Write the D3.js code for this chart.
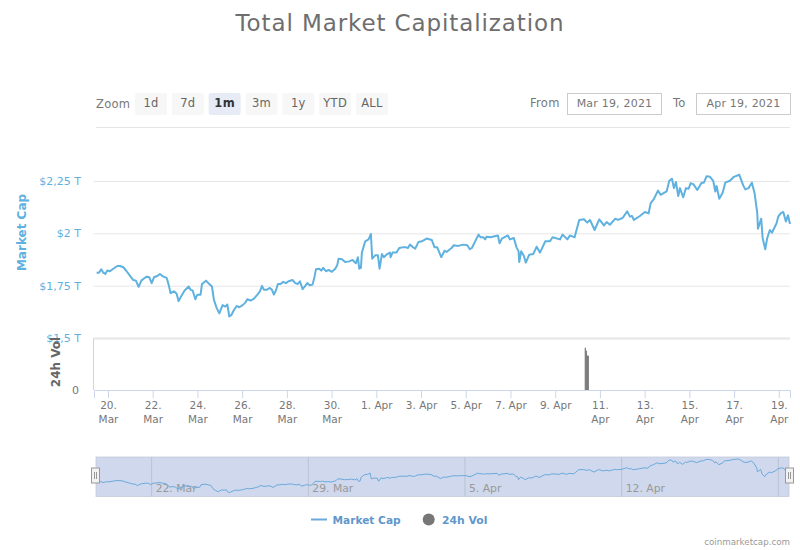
<!DOCTYPE html>
<html><head><meta charset="utf-8">
<script src="https://cdnjs.cloudflare.com/ajax/libs/d3/7.8.5/d3.min.js"></script>
<style>html,body{margin:0;padding:0;background:#fff}svg{display:block}text{font-family:"DejaVu Sans",sans-serif}</style>
</head><body><svg id="c" width="800" height="550"></svg>
<script>
// hours since 20 Mar 2021 00:00 UTC
const capHours=[-12.2,-9.7,-7.2,-5,-2.9,-0.7,2.1,5.7,10,12.9,16.5,20,24.3,27.2,30,32.9,35.8,38.6,41.5,44.4,46.9,49.4,52.9,55.8,59.4,63,65.1,67.2,70.8,73.7,75.8,78.7,82.3,86.6,88.7,90.9,93.7,95.9,99.4,100.9,105.2,108.7,111.6,113.7,116.6,119.5,123,125.9,128.1,130.2,132.3,135.2,138.1,140.9,144.5,147.4,149.5,153.1,156.7,160.2,163.1,165.3,167.4,170.3,173.8,176,178.1,180.2,182.4,185.2,188.1,191,193.8,198.1,201,203.8,206,208.9,211.7,213.9,216.7,219.6,221.7,223.2,226.7,228.9,231,233.9,236.8,240.3,243.9,246,247.5,251.1,254.6,258.9,262.5,266.1,268.2,269.7,271.5,272.5,276.1,279.7,282.2,283.6,286.8,289.7,291.5,294,296.1,299.7,302.6,303.3,305.4,309.7,312.6,316.2,319.7,321.9,324,327.6,329.8,333.3,336.9,341.9,347.6,350.5,353.4,357.7,361.2,363.4,368.7,371.3,375.9,381.3,385.6,388.4,390.6,397.7,399.9,402.7,404.9,406.3,410.6,418.5,420.3,422.8,429.2,431.4,435.6,438.5,440.7,441.4,443.5,446.4,448.5,452.1,456.4,460.1,463.6,469.4,474.4,477.2,485.1,488,493,495.8,500.8,505.8,510.8,514.4,517.3,522.3,527.3,532.3,535.2,538.7,544.5,547.3,552.3,557.3,560.2,562.4,564.5,570.9,576.3,580.2,582.4,586,590.3,593.1,599.6,602.4,605.3,607.4,609.6,612.1,613.9,617.4,620.3,623.2,625.3,628.2,632.5,637.1,639.6,642.5,646.1,649.6,651.8,653.2,656.1,659.7,662.5,667.5,671.8,677.5,681.8,684,687.5,691.1,694,696.9,697.6,701.1,702.6,705.4,707.6,710.4,712.6,717.6,719.4,721.9,724.8,727.6,729.8,732];
// market cap, trillions of USD
const capValues=[1.812,1.812,1.828,1.812,1.806,1.822,1.819,1.831,1.844,1.844,1.838,1.819,1.793,1.777,1.774,1.744,1.774,1.784,1.793,1.79,1.762,1.79,1.796,1.806,1.793,1.787,1.755,1.714,1.723,1.711,1.676,1.701,1.727,1.746,1.73,1.727,1.685,1.707,1.707,1.758,1.774,1.758,1.746,1.682,1.644,1.618,1.657,1.65,1.66,1.603,1.609,1.634,1.653,1.647,1.657,1.669,1.685,1.679,1.688,1.706,1.723,1.749,1.73,1.73,1.739,1.73,1.707,1.727,1.758,1.758,1.768,1.762,1.771,1.777,1.762,1.758,1.771,1.733,1.749,1.762,1.752,1.755,1.793,1.828,1.831,1.822,1.835,1.819,1.825,1.816,1.831,1.847,1.879,1.876,1.863,1.866,1.873,1.857,1.886,1.831,1.835,1.908,1.962,1.971,1.997,1.879,1.895,1.895,1.831,1.901,1.886,1.901,1.908,1.886,1.908,1.908,1.93,1.933,1.933,1.93,1.946,1.933,1.927,1.959,1.962,1.975,1.968,1.933,1.933,1.886,1.917,1.911,1.93,1.943,1.94,1.946,1.943,1.924,1.93,1.994,1.981,1.981,1.971,1.984,1.981,1.99,1.952,1.975,1.99,1.971,1.978,1.933,1.914,1.863,1.914,1.892,1.86,1.898,1.901,1.936,1.908,1.962,1.962,1.981,1.971,1.994,1.971,1.99,1.981,2.064,2.067,2.051,2.064,2.016,2.067,2.038,2.054,2.041,2.07,2.064,2.073,2.105,2.08,2.083,2.064,2.083,2.102,2.095,2.143,2.165,2.204,2.184,2.2,2.251,2.261,2.216,2.245,2.178,2.216,2.172,2.216,2.213,2.239,2.235,2.207,2.242,2.242,2.273,2.27,2.251,2.2,2.226,2.165,2.194,2.242,2.251,2.27,2.28,2.229,2.21,2.216,2.242,2.191,2.095,2.022,2.07,1.978,1.924,1.978,2.016,2.003,2.048,2.08,2.095,2.102,2.057,2.086,2.045];
const volHours=[512.3,513.4,514.5,515.5];
const volValues=[423,393,345,343]; // billions of USD
const capTicks=[1.5,1.75,2,2.25];
const capTickLabels=["$1,5 T","$1,75 T","$2 T","$2,25 T"];
const dateTicks=[[2,20],[2,22],[2,24],[2,26],[2,28],[2,30],[3,1],[3,3],[3,5],[3,7],[3,9],[3,11],[3,13],[3,15],[3,17],[3,19]];
const navTicks=[[2,22],[2,29],[3,5],[3,12],[3,19]];
const navTickLabels=["22. Mar","29. Mar","5. Apr","12. Apr",""];
const rangeButtons=["1d","7d","1m","3m","1y","YTD","ALL"];
const selectedButton="1m";

const t0=Date.UTC(2021,2,20);
const toDate=h=>new Date(t0+h*36e5);
const tick=([m,d])=>new Date(Date.UTC(2021,m,d));
const capData=capHours.map((h,i)=>({t:toDate(h),v:capValues[i]}));
const svg=d3.select("#c");
const BLUE="#5fb1e0",GRID="#e6e6e6",AX="#ccd6eb";

const x=d3.scaleUtc().domain([toDate(-15),toDate(732)]).range([94,790]);
const y=d3.scaleLinear().domain([1.5,2.25]).range([338,181]);
const yVol=d3.scaleLinear().domain([0,520]).range([390,338]);

// title
svg.append("text").attr("x",400).attr("y",31).attr("text-anchor","middle")
 .attr("font-size",23).attr("letter-spacing",.9).attr("fill","#6e6e6e").text("Total Market Capitalization");

// range selector
svg.append("text").attr("x",96).attr("y",108).attr("font-size",11.5).attr("letter-spacing",.3).attr("fill","#777").text("Zoom");
const bx=d3.scalePoint().domain(rangeButtons).range([135,356]);
rangeButtons.forEach(b=>{
 const sel=b===selectedButton;
 svg.append("rect").attr("x",bx(b)).attr("y",93).attr("width",32).attr("height",22).attr("rx",2)
  .attr("fill",sel?"#e6ebf5":"#f7f7f7");
 svg.append("text").attr("x",bx(b)+16).attr("y",107).attr("text-anchor","middle").attr("font-size",11.5)
  .attr("font-weight",sel?"bold":"normal").attr("fill",sel?"#333":"#666").attr("letter-spacing",.3).text(b);
});
svg.append("text").attr("x",530).attr("y",107).attr("font-size",11.5).attr("letter-spacing",.3).attr("fill","#777").text("From");
svg.append("text").attr("x",673).attr("y",107).attr("font-size",11.5).attr("letter-spacing",.3).attr("fill","#777").text("To");
[[567.5,"Mar 19, 2021"],[696.5,"Apr 19, 2021"]].forEach(([bxx,s])=>{
 svg.append("rect").attr("x",bxx).attr("y",93.5).attr("width",94).attr("height",21).attr("fill","#fff").attr("stroke","#ccc");
 svg.append("text").attr("x",bxx+47).attr("y",107).attr("text-anchor","middle").attr("font-size",11).attr("letter-spacing",.2).attr("fill","#777").text(s);
});
svg.append("line").attr("x1",96).attr("x2",790).attr("y1",127.5).attr("y2",127.5).attr("stroke",GRID);

// grid + y axis
const gy=svg.append("g").attr("transform","translate(94,0)")
 .call(d3.axisLeft(y).tickValues(capTicks).tickSize(0).tickPadding(13)
  .tickFormat(v=>capTickLabels[capTicks.indexOf(v)]));
gy.select(".domain").remove();
gy.selectAll("text").attr("font-size",11).attr("fill",BLUE).style("font-family",'"DejaVu Sans"');
gy.selectAll(".tick").append("line").attr("x1",0).attr("x2",696).attr("stroke",GRID)
 .attr("stroke-width",v=>v===1.5?2:1);
svg.append("text").attr("transform","translate(26,232.5) rotate(-90)").attr("text-anchor","middle")
 .attr("font-size",12).attr("font-weight","bold").attr("fill",BLUE).text("Market Cap");

// volume panel
svg.append("line").attr("x1",93.5).attr("x2",93.5).attr("y1",338).attr("y2",390).attr("stroke",AX);
svg.append("g").selectAll("rect").data(volHours).join("rect")
 .attr("x",h=>x(toDate(h))-.6).attr("width",1.2).attr("fill","#777")
 .attr("y",(h,i)=>yVol(volValues[i])).attr("height",(h,i)=>yVol(0)-yVol(volValues[i]));
const gv=svg.append("g").attr("transform","translate(94,0)")
 .call(d3.axisLeft(yVol).tickValues([0]).tickSize(0).tickPadding(15).tickFormat(()=>"0"));
gv.select(".domain").remove();
gv.selectAll("text").attr("font-size",11).attr("fill","#777");
svg.append("text").attr("transform","translate(60,362) rotate(-90)").attr("text-anchor","middle")
 .attr("font-size",12).attr("font-weight","bold").attr("fill","#666").text("24h Vol");

// x axis
const gx=svg.append("g").attr("transform","translate(0,390)")
 .call(d3.axisBottom(x).tickValues(dateTicks.map(tick)).tickSize(8).tickFormat(()=>""));
gx.select(".domain").attr("stroke",AX);
gx.selectAll("line").attr("stroke",AX);
gx.selectAll("text").remove();
gx.selectAll(".tick").append("text").attr("text-anchor","middle").attr("fill","#777").attr("font-size",10.5)
 .each(function(d){
  const t=d3.select(this), day=d.getUTCDate();
  if(day<10){ t.append("tspan").attr("x",0).attr("y",19).text(d3.utcFormat("%-d. %b")(d)); return; }
  t.append("tspan").attr("x",0).attr("y",19).text(d3.utcFormat("%-d.")(d));
  t.append("tspan").attr("x",0).attr("y",33).text(d3.utcFormat("%b")(d));
 });

// market cap line
const line=d3.line().x(d=>x(d.t)).y(d=>y(d.v)).curve(d3.curveLinear);
svg.append("path").datum(capData).attr("d",line).attr("fill","none").attr("stroke",BLUE)
 .attr("stroke-width",2).attr("stroke-linejoin","round");

// navigator
const nx=d3.scaleUtc().domain([toDate(-12.2),toDate(732)]).range([95.5,789.5]);
const ny=d3.scaleLinear().domain([1.6,2.28]).range([492.7,459]);
const navTop=457,navBot=496.5;
svg.append("rect").attr("x",96).attr("y",navTop).attr("width",693).attr("height",navBot-navTop)
 .attr("fill","#cfd8ec").attr("stroke","#c3cad9").attr("stroke-width",.8);
const gn=svg.append("g");
navTicks.forEach((d,i)=>{
 const px=nx(tick(d));
 gn.append("line").attr("x1",px).attr("x2",px).attr("y1",navTop).attr("y2",navBot).attr("stroke","#bcc3d2");
 gn.append("text").attr("x",px+4).attr("y",492).attr("font-size",10.8).attr("fill","#999").text(navTickLabels[i]);
});
svg.append("path").datum(capData)
 .attr("d",d3.line().x(d=>nx(d.t)).y(d=>ny(d.v)))
 .attr("fill","none").attr("stroke","#6ba9dc").attr("stroke-width",1);
[95.5,789.5].forEach(px=>{
 const g=svg.append("g").attr("transform",`translate(${px},468)`);
 g.append("rect").attr("x",-4).attr("y",0).attr("width",8).attr("height",15).attr("fill","#f2f2f2").attr("stroke","#999");
 [-1,1].forEach(o=>g.append("line").attr("x1",o).attr("x2",o).attr("y1",4).attr("y2",11).attr("stroke","#999"));
});

// legend
svg.append("line").attr("x1",311).attr("x2",327).attr("y1",519.5).attr("y2",519.5).attr("stroke","#6ba9dc").attr("stroke-width",2);
svg.append("text").attr("x",332.5).attr("y",524).attr("font-size",10.6).attr("font-weight","bold").attr("fill","#5f97cc").text("Market Cap");
svg.append("circle").attr("cx",428.7).attr("cy",519.5).attr("r",6).attr("fill","#777");
svg.append("text").attr("x",442).attr("y",524).attr("font-size",10.8).attr("font-weight","bold").attr("fill","#5f97cc").text("24h Vol");

// credit
svg.append("text").attr("x",790).attr("y",545).attr("text-anchor","end").attr("font-size",8.7).attr("fill","#999").text("coinmarketcap.com");
</script></body></html>
